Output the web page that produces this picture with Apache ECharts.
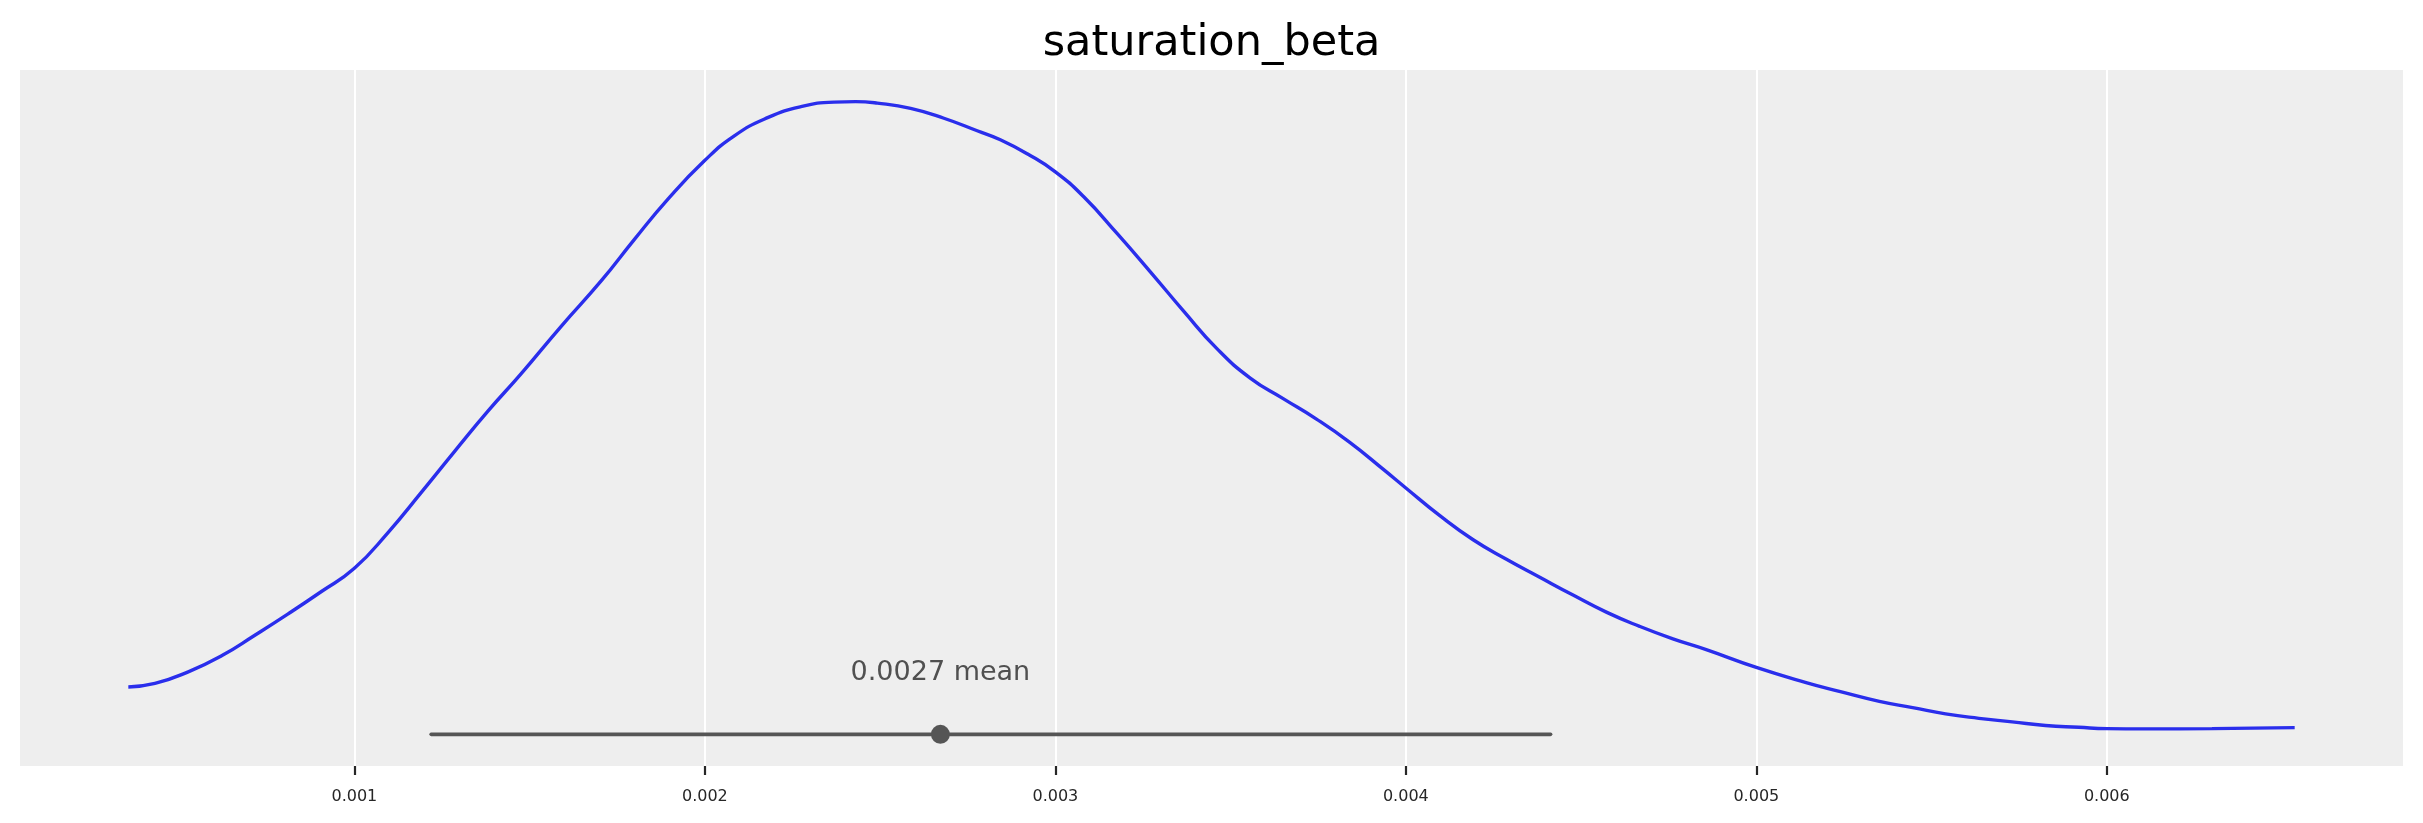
<!DOCTYPE html>
<html>
<head>
<meta charset="utf-8">
<script src="https://cdn.jsdelivr.net/npm/echarts@6/dist/echarts.min.js"></script>
<style>
  html, body { margin: 0; padding: 0; background: #fff; }
  #chart { width: 2423px; height: 823px; }
</style>
</head>
<body>
<div id="chart"></div>
<script>
// kde of saturation_beta
var kde_x = [0.000355,0.000431,0.000526,0.000621,0.000716,0.000811,0.000906,0.001,0.001096,0.001191,
  0.001286,0.001381,0.001476,0.00159,0.001704,0.001799,0.001894,0.001998,0.002083,0.002179,
  0.002274,0.002369,0.00243,0.002492,0.002587,0.002682,0.002777,0.002843,0.002921,0.003,
  0.003081,0.003176,0.003271,0.003366,0.003461,0.003556,0.00365,0.003745,0.00384,0.003935,
  0.004,0.004097,0.004192,0.004287,0.004382,0.004477,0.004572,0.004667,0.004762,0.004857,
  0.005,0.005142,0.005237,0.005351,0.005446,0.00554,0.005635,0.00573,0.005825,0.00592,
  0.006,0.00611,0.0063,0.006536]
var kde_y = [32.2,34.6,42.5,53.4,67.4,81.9,97.1,112.9,137.2,164.5,
  192.4,219.7,245.2,277.4,308.2,336.5,363.7,389.7,406.7,419.2,
  426.7,429.8,430.1,429.1,425.5,418.8,410.3,404.2,394.5,382.4,
  365.4,340.5,314.4,287.7,262.2,242.2,228.2,214.3,198.5,180.3,
  167.5,148.7,132.3,119,106.8,94.7,83.1,73.4,64.9,57.6,
  45.5,35.2,29.2,22.4,18.2,13.9,10.9,8.5,6,4.8,
  3.9,3.7,3.9,4.6]

var hdi = [0.001219, 0.004413]
var mean_val = 0.002672
var mean_text = '0.0027 mean'
var tick_vals = [0.001, 0.002, 0.003, 0.004, 0.005, 0.006]
var title_text = 'saturation_beta'

var kde_data = []
for (var i = 0; i < kde_x.length; i++) {
    kde_data.push([kde_x[i], kde_y[i]])
}

// matplotlib style 5% margins
var xspan = kde_x[kde_x.length - 1] - kde_x[0]
var xmin = kde_x[0] - 0.05 * xspan
var xmax = kde_x[kde_x.length - 1] + 0.05 * xspan
var ytop = Math.max.apply(null, kde_y)
var ymin = -0.05 * ytop
var ymax = ytop * 1.05

var myChart = echarts.init(document.getElementById('chart'))
myChart.setOption({
    animation: false,
    backgroundColor: '#ffffff',
    title: {
        text: title_text,
        left: 'center',
        top: 17,
        textStyle: { fontFamily: 'DejaVu Sans', fontSize: 43, fontWeight: 'normal', color: '#000' }
    },
    grid: {
        left: 20, right: 20, top: 70, bottom: 57,
        show: true, backgroundColor: '#eeeeee', borderWidth: 0
    },
    xAxis: {
        type: 'value',
        min: xmin,
        max: xmax,
        axisLine: { show: true, onZero: false, lineStyle: { color: 'rgba(0,0,0,0)' } },
        axisTick: {
            show: true, customValues: tick_vals, length: 9,
            lineStyle: { color: '#262626', width: 2.2 }
        },
        axisLabel: {
            customValues: tick_vals, margin: 23,
            fontFamily: 'DejaVu Sans', fontSize: 16, color: '#262626',
            formatter: function (v) { return v.toFixed(3) }
        },
        splitLine: { show: true, lineStyle: { color: '#ffffff', width: 2 } }
    },
    yAxis: {
        type: 'value',
        min: ymin,
        max: ymax,
        show: false,
        splitLine: { show: false }
    },
    series: [
        {
            type: 'line',
            data: kde_data,
            smooth: 0.5,
            showSymbol: false,
            lineStyle: { color: '#2a2eec', width: 3.4 },
            z: 3
        },
        {
            type: 'line',
            data: [[hdi[0], 0], [hdi[1], 0]],
            showSymbol: false,
            lineStyle: { color: '#555555', width: 3.6, cap: 'round' },
            z: 4
        },
        {
            type: 'scatter',
            data: [[mean_val, 0]],
            symbolSize: 19,
            itemStyle: { color: '#555555', opacity: 1 },
            label: {
                show: true,
                position: 'top',
                distance: 38,
                formatter: mean_text,
                fontFamily: 'DejaVu Sans',
                fontSize: 27,
                lineHeight: 28,
                color: '#505050'
            },
            z: 5
        }
    ]
})
</script>
</body>
</html>
